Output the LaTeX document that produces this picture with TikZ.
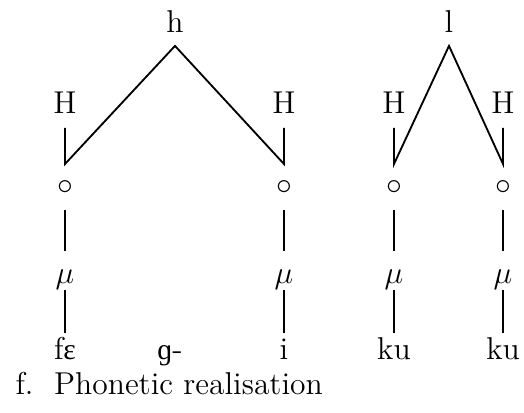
\documentclass[tikz,border=0pt]{standalone}
\usepackage{fontspec}
\newfontfamily\ipafont[Scale=MatchLowercase]{Liberation Serif}
\usetikzlibrary{positioning}
\tikzset{
  seg/.style={inner sep=0pt, anchor=base, text height=1.5ex, text depth=.25ex},
  tie/.style={draw=black, line width=0.7pt},
}
\begin{document}
\begin{tikzpicture}[x=0.38pt, y=-0.38pt,
    every node/.append style={font=\fontsize{12}{14.4}\selectfont}]
  \useasboundingbox (0,0) rectangle (524,412);

  % ===== tonal tier ====================================================
  \node[seg] (h) at (175,32) {h};
  \node[seg] (l) at (449,32) {l};
  \node[seg] (H1) at (65,113) {H};
  \node[seg] (H2) at (284,113) {H};
  \node[seg] (H3) at (394,113) {H};
  \node[seg] (H4) at (503,113) {H};
  \coordinate (j1) at (65,164);
  \coordinate (j2) at (284,164);
  \coordinate (j3) at (394,164);
  \coordinate (j4) at (503,164);

  % ===== root / mora / segment tiers ====================================
  \foreach \n/\x in {1/65, 2/284, 3/394, 4/503} {
    \node[seg] (o\n) at (\x,194) {$\circ$};
    \node[seg] (mu\n) at (\x,283) {$\mu$};
  }
  \node[seg] (s1) at (65,359) {f{\ipafont ɛ}};
  \node[seg] (s0) at (170,359) {{\ipafont ɡ}-};
  \node[seg] (s2) at (284,359) {i};
  \node[seg] (s3) at (394,359) {ku};
  \node[seg] (s4) at (503,359) {ku};

  \node[seg, anchor=base west] (cap) at (15,394) {f.\ \ Phonetic realisation};

  % ===== association lines ==============================================
  \draw[tie, shorten <=4.4pt, shorten >=4.4pt] (H1.south) -- (j1)
       -- ([yshift=-4pt]h.south) -- (j2) -- (H2.south);
  \draw[tie, shorten <=4.4pt, shorten >=4.4pt] (H3.south) -- (j3)
       -- ([yshift=-4pt]l.south) -- (j4) -- (H4.south);
  \foreach \n in {1,...,4} {
    \draw[tie, shorten <=4.8pt, shorten >=5.5pt] (o\n.south) -- (mu\n.north);
    \draw[tie, shorten <=1.4pt, shorten >=3.2pt] (mu\n.south) -- (s\n.north);
  }

\end{tikzpicture}
\end{document}
